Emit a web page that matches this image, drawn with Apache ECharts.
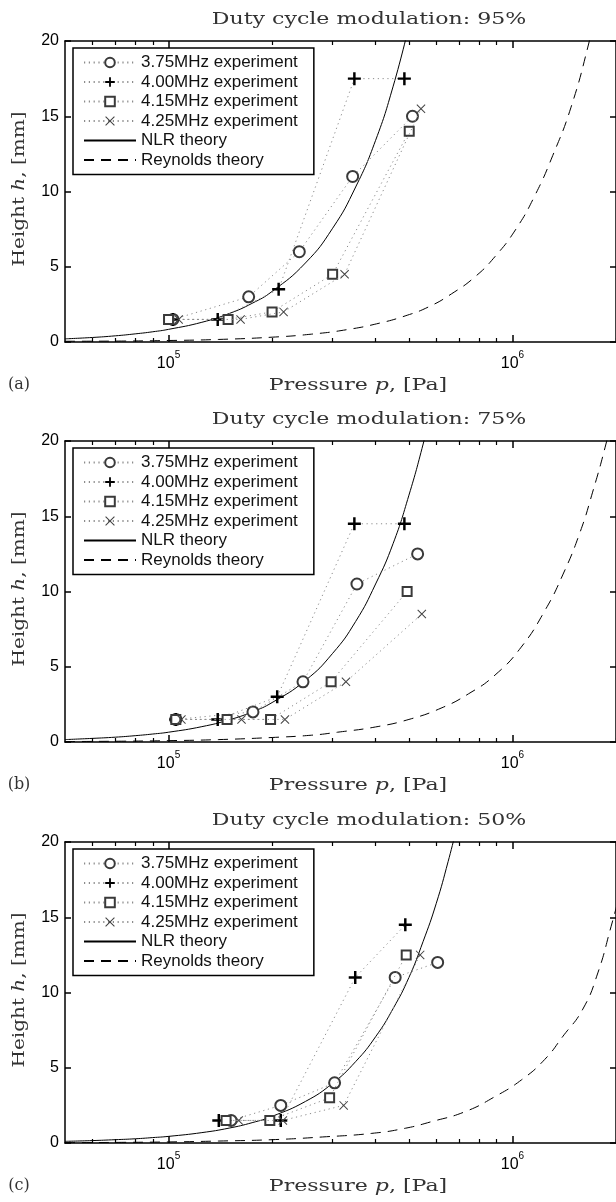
<!DOCTYPE html>
<html><head><meta charset="utf-8">
<script src="https://cdn.jsdelivr.net/npm/echarts@6/dist/echarts.min.js"></script>
<style>html,body{margin:0;padding:0;background:#fff}#c{width:616px;height:1202px}</style>
</head><body><div id="c"></div>
<script>
// ---------- text ----------
const panelTitles = ['Duty cycle modulation: 95%', 'Duty cycle modulation: 75%', 'Duty cycle modulation: 50%'];
const panelTags = ['(a)', '(b)', '(c)'];
const seriesNames = ['3.75MHz experiment', '4.00MHz experiment', '4.15MHz experiment', '4.25MHz experiment', 'NLR theory', 'Reynolds theory'];
const xLabel = 'Pressure {i|p}, [Pa]';
const yLabel = 'Height {i|h}, [mm]';

// ---------- ticks ----------
const xMajorTicks = [1e5, 1e6];
const xMinorTicks = [6e4, 7e4, 8e4, 9e4, 2e5, 3e5, 4e5, 5e5, 6e5, 7e5, 8e5, 9e5, 2e6];
const yTicks = [0, 5, 10, 15, 20];

// ---------- panel (a) 95% ----------
const a375 = [[1.03e5, 1.5], [1.71e5, 3], [2.40e5, 6], [3.43e5, 11], [5.12e5, 15]];
const a400 = [[1.03e5, 1.5], [1.39e5, 1.5], [2.09e5, 3.5], [3.47e5, 17.5], [4.85e5, 17.5]];
const a415 = [[1.00e5, 1.5], [1.49e5, 1.5], [2.00e5, 2], [3.00e5, 4.5], [5.01e5, 14]];
const a425 = [[1.07e5, 1.5], [1.62e5, 1.5], [2.16e5, 2], [3.25e5, 4.5], [5.42e5, 15.5]];
const aNLR = [[5e4, 0.21], [6e4, 0.30], [7e4, 0.41], [8e4, 0.54], [9e4, 0.68], [1e5, 0.84], [1.25e5, 1.31], [1.5e5, 1.89], [1.75e5, 2.57], [2e5, 3.36], [2.5e5, 5.25], [3e5, 7.56], [3.5e5, 10.3], [4e5, 13.4], [4.5e5, 17.0], [5e5, 21.0]];
const aRey = [[5e4, 0.05], [7e4, 0.06], [1e5, 0.1], [1.4e5, 0.17], [2e5, 0.32], [2.6e5, 0.52], [3.3e5, 0.82], [4.1e5, 1.25], [4.9e5, 1.75], [5.7e5, 2.33], [6.65e5, 3.2], [7.8e5, 4.35], [8.9e5, 5.68], [1.02e6, 7.45], [1.16e6, 9.7], [1.31e6, 12.4], [1.48e6, 15.6], [1.665e6, 19.8], [1.8e6, 23.2]];

// ---------- panel (b) 75% ----------
const b375 = [[1.05e5, 1.5], [1.76e5, 2], [2.46e5, 4], [3.53e5, 10.5], [5.30e5, 12.5]];
const b400 = [[1.05e5, 1.5], [1.39e5, 1.5], [2.07e5, 3], [3.47e5, 14.5], [4.85e5, 14.5]];
const b415 = [[1.05e5, 1.5], [1.48e5, 1.5], [1.98e5, 1.5], [2.97e5, 4], [4.94e5, 10]];
const b425 = [[1.09e5, 1.5], [1.63e5, 1.5], [2.18e5, 1.5], [3.28e5, 4], [5.45e5, 8.5]];
const bNLR = [[5e4, 0.16], [6e4, 0.24], [7e4, 0.32], [8e4, 0.42], [9e4, 0.53], [1e5, 0.65], [1.25e5, 1.02], [1.5e5, 1.47], [1.75e5, 2.0], [2e5, 2.62], [2.5e5, 4.09], [3e5, 5.89], [3.5e5, 8.01], [4e5, 10.5], [4.5e5, 13.2], [5e5, 16.4], [5.5e5, 19.8], [5.8e5, 22.0]];
const bRey = [[5e4, 0.03], [7e4, 0.05], [1e5, 0.09], [1.4e5, 0.16], [2e5, 0.3], [2.6e5, 0.45], [3.1e5, 0.65], [4e5, 1.0], [5e5, 1.5], [6.2e5, 2.25], [7.45e5, 3.2], [8.9e5, 4.45], [1.06e6, 6.3], [1.24e6, 8.7], [1.4e6, 11.1], [1.57e6, 13.9], [1.71e6, 16.6], [1.87e6, 19.8], [2e6, 22.6]];

// ---------- panel (c) 50% ----------
const c375 = [[1.52e5, 1.5], [2.12e5, 2.5], [3.04e5, 4], [4.56e5, 11], [6.06e5, 12]];
const c400 = [[1.40e5, 1.5], [2.12e5, 1.5], [3.49e5, 11], [4.88e5, 14.5]];
const c415 = [[1.47e5, 1.5], [1.97e5, 1.5], [2.94e5, 3], [4.91e5, 12.5]];
const c425 = [[1.60e5, 1.5], [2.15e5, 1.5], [3.23e5, 2.5], [5.39e5, 12.5]];
const cNLR = [[5e4, 0.11], [6e4, 0.16], [7e4, 0.22], [8e4, 0.28], [9e4, 0.36], [1e5, 0.44], [1.25e5, 0.69], [1.5e5, 0.99], [1.75e5, 1.35], [2e5, 1.77], [2.5e5, 2.76], [3e5, 3.97], [3.5e5, 5.41], [4e5, 7.06], [4.5e5, 8.94], [5e5, 11.0], [5.5e5, 13.4], [6e5, 15.9], [6.5e5, 18.7], [7e5, 21.6]];
const cRey = [[5e4, 0.02], [7e4, 0.04], [1e5, 0.07], [1.4e5, 0.13], [2e5, 0.22], [2.8e5, 0.4], [3.9e5, 0.64], [4.88e5, 0.98], [5.82e5, 1.42], [7.28e5, 2.08], [8.89e5, 3.08], [1.063e6, 4.2], [1.241e6, 5.55], [1.403e6, 7.1], [1.602e6, 8.9], [1.771e6, 11.3], [1.936e6, 14.4], [2.05e6, 16.5]];

const panels = [
  [a375, a400, a415, a425, aNLR, aRey],
  [b375, b400, b415, b425, bNLR, bRey],
  [c375, c400, c415, c425, cNLR, cRey]
];

// ---------- styling ----------
const tops = [41, 441, 842];
const GL = 65, GW = 553, GH = 301;
const PLUS = 'path://M-1,-0.19L1,-0.19L1,0.19L-1,0.19Z M-0.19,-1L0.19,-1L0.19,1L-0.19,1Z';
const CROSS = 'path://M-1,-0.84L-0.84,-1L1,0.84L0.84,1Z M0.84,-1L1,-0.84L-0.84,1L-1,0.84Z';
const markers = [
  { symbol: 'emptyCircle', symbolSize: 11, color: '#3a3a3a', borderWidth: 1.1 },
  { symbol: PLUS, symbolSize: 13, color: '#000', borderWidth: 0 },
  { symbol: 'emptyRect', symbolSize: 9, color: '#3a3a3a', borderWidth: 1.1 },
  { symbol: CROSS, symbolSize: 9, color: '#444', borderWidth: 0 }
];
const SERIF = 'DejaVu Serif';
const SANS = 'Liberation Sans';
const axisLineStyle = { color: '#000', width: 1.5 };

const grids = [], xAxes = [], yAxes = [], series = [], legends = [], graphics = [];

panels.forEach((data, i) => {
  const T = tops[i];
  grids.push({ left: GL, top: T, width: GW, height: GH, containLabel: false });
  const baseX = { gridIndex: i, type: 'log', logBase: 10, min: 5e4, max: 2e6, splitLine: { show: false }, axisPointer: { show: false } };
  // bottom major
  xAxes.push(Object.assign({}, baseX, {
    position: 'bottom',
    axisLine: { show: true, onZero: false, lineStyle: axisLineStyle },
    axisTick: { show: true, inside: true, length: 7, customValues: xMajorTicks, lineStyle: axisLineStyle },
    axisLabel: {
      show: true, customValues: xMajorTicks, margin: 8, color: '#000',
      formatter: v => '{b|10}{s|' + Math.round(Math.log10(v)) + '}',
      rich: {
        b: { fontFamily: SANS, fontSize: 16, color: '#000', lineHeight: 22, verticalAlign: 'bottom' },
        s: { fontFamily: SANS, fontSize: 10, color: '#000', lineHeight: 22, verticalAlign: 'top' }
      }
    }
  }));
  // bottom minor
  xAxes.push(Object.assign({}, baseX, {
    position: 'bottom',
    axisLine: { show: false, onZero: false },
    axisTick: { show: true, inside: true, length: 4, customValues: xMinorTicks, lineStyle: { color: '#000', width: 1.2 } },
    axisLabel: { show: false }
  }));
  // top major
  xAxes.push(Object.assign({}, baseX, {
    position: 'top',
    axisLine: { show: true, onZero: false, lineStyle: axisLineStyle },
    axisTick: { show: true, inside: true, length: 7, customValues: xMajorTicks, lineStyle: axisLineStyle },
    axisLabel: { show: false }
  }));
  // top minor
  xAxes.push(Object.assign({}, baseX, {
    position: 'top',
    axisLine: { show: false, onZero: false },
    axisTick: { show: true, inside: true, length: 4, customValues: xMinorTicks, lineStyle: { color: '#000', width: 1.2 } },
    axisLabel: { show: false }
  }));
  const baseY = { gridIndex: i, type: 'value', min: yTicks[0], max: yTicks[yTicks.length - 1], interval: 5, splitLine: { show: false } };
  yAxes.push(Object.assign({}, baseY, {
    position: 'left',
    axisLine: { show: true, onZero: false, lineStyle: axisLineStyle },
    axisTick: { show: true, inside: true, length: 6, lineStyle: axisLineStyle },
    axisLabel: { show: true, margin: 6, fontFamily: SANS, fontSize: 16, color: '#000' }
  }));
  yAxes.push(Object.assign({}, baseY, {
    position: 'right',
    axisLine: { show: true, onZero: false, lineStyle: axisLineStyle },
    axisTick: { show: true, inside: true, length: 6, lineStyle: axisLineStyle },
    axisLabel: { show: false }
  }));

  // experiment series
  for (let k = 0; k < 4; k++) {
    const m = markers[k];
    series.push({
      type: 'line', name: seriesNames[k], xAxisIndex: 4 * i, yAxisIndex: 2 * i,
      data: data[k], symbol: m.symbol, symbolSize: m.symbolSize, showSymbol: true,
      itemStyle: { color: m.color, borderColor: m.color, borderWidth: m.borderWidth },
      lineStyle: { color: '#8c8c8c', width: 1, type: [1.2, 3.6] },
      z: 4 + k, animation: false, silent: true
    });
  }
  series.push({
    type: 'line', name: seriesNames[4], xAxisIndex: 4 * i, yAxisIndex: 2 * i,
    data: data[4], symbol: 'none', smooth: true,
    itemStyle: { color: '#000', opacity: 0 }, lineStyle: { color: '#000', width: 1, opacity: 1 },
    z: 3, animation: false, silent: true
  });
  series.push({
    type: 'line', name: seriesNames[5], xAxisIndex: 4 * i, yAxisIndex: 2 * i,
    data: data[5], symbol: 'none', smooth: true,
    itemStyle: { color: '#000', opacity: 0 }, lineStyle: { color: '#000', width: 1, type: [10, 7], opacity: 1 },
    z: 3, animation: false, silent: true
  });

  legends.push({
    orient: 'vertical', left: 73, top: T + 7,
    itemWidth: 52, itemHeight: 12, itemGap: 2.5,
    padding: [6, 16, 6, 10],
    borderColor: '#000', borderWidth: 1.5, backgroundColor: '#fff',
    selectedMode: false,
    textStyle: { fontFamily: SANS, fontSize: 17, color: '#111', lineHeight: 17 },
    data: seriesNames
  });

  const serifStyle = (txt) => ({
    text: txt, fontFamily: SERIF, fontSize: 16, fill: '#333',
    align: 'center', verticalAlign: 'middle', textAlign: 'center', textVerticalAlign: 'middle',
    rich: { i: { fontFamily: SERIF, fontSize: 16, fontStyle: 'italic', fill: '#333' } }
  });
  graphics.push({ type: 'text', x: 369, y: T - 21, scaleX: 1.38, style: serifStyle(panelTitles[i]), z: 10 });
  graphics.push({ type: 'text', x: 358, y: T + 345, scaleX: 1.38, style: serifStyle(xLabel), z: 10 });
  graphics.push({ type: 'text', x: 20, y: T + 148, rotation: Math.PI / 2, scaleX: 1.25, style: serifStyle(yLabel), z: 10 });
  graphics.push({ type: 'text', x: 19, y: T + 344, style: serifStyle(panelTags[i]), z: 10 });
});

const chart = echarts.init(document.getElementById('c'), null, { renderer: 'canvas', width: 616, height: 1202 });
chart.setOption({
  animation: false,
  backgroundColor: '#fff',
  grid: grids, xAxis: xAxes, yAxis: yAxes, series: series, legend: legends,
  graphic: { elements: graphics }
});
</script></body></html>
